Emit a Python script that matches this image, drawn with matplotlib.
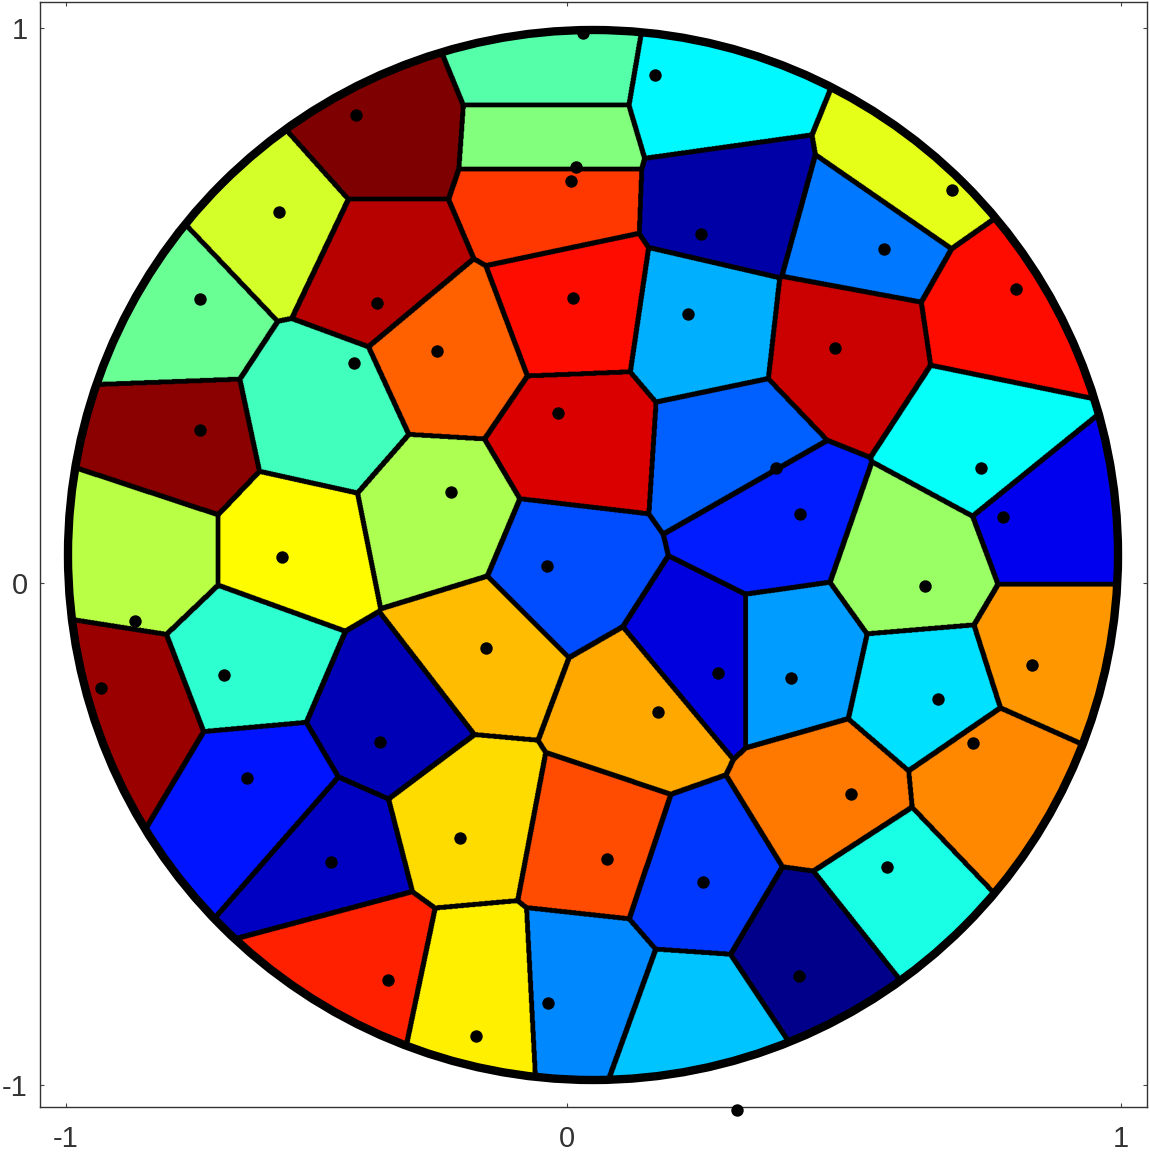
import numpy as np
import matplotlib
matplotlib.use('Agg')
import matplotlib.pyplot as plt
from matplotlib.patches import Circle
from matplotlib.colors import LinearSegmentedColormap

# centros de las celdas (generadores del Voronoi) y valor de color (jet)
cell_x = np.array([-0.091, 0.242, -0.091, -0.091, -0.415, -0.596, -0.796, -0.415, -0.044, -0.272,
                   -0.520, -0.787, -0.853, -0.577, -0.291, -0.063, 0.261, 0.337, 0.270, 0.213,
                   0.509, 0.594, 0.470, 0.794, 0.747, 0.870, 0.613, 0.204, 0.375, 0.632,
                   0.870, 0.756, 0.451, 0.556, 0.413, 0.204, 0.004, 0.090, -0.215, -0.387,
                   -0.653, -0.901, -0.630, -0.500, -0.244, -0.444, -0.215, -0.025, 0.185, -0.034])
cell_y = np.array([0.933, 0.876, 0.777, 0.690, 0.800, 0.638, 0.448, 0.552, 0.467, 0.381,
                   0.267, 0.210, 0.010, 0.010, 0.067, -0.029, 0.200, 0.067, 0.676, 0.429,
                   0.610, 0.733, 0.400, 0.448, 0.219, 0.067, -0.029, -0.200, -0.200, -0.257,
                   -0.181, -0.438, -0.467, -0.629, -0.743, -0.619, -0.552, -0.295, -0.181, -0.314,
                   -0.200, -0.295, -0.457, -0.571, -0.505, -0.781, -0.829, -0.819, -0.895, 0.219])
cell_val = np.array([0.46, 0.37, 0.50, 0.82, 1.00, 0.585, 0.48, 0.945, 0.86, 0.78,
                     0.44, 0.985, 0.555, 0.625, 0.545, 0.2025, 0.2225, 0.155, 0.04, 0.30,
                     0.2425, 0.60, 0.925, 0.86, 0.38, 0.11, 0.525, 0.095, 0.28, 0.345,
                     0.725, 0.74, 0.755, 0.40, 0.015, 0.18, 0.80, 0.71, 0.69, 0.055,
                     0.42, 0.97, 0.145, 0.07, 0.66, 0.84, 0.64, 0.26, 0.32, 0.91])

# puntos negros
dot_x = [-0.019, 0.118, -0.451, -0.032, -0.042, 0.684, -0.598, 0.206, 0.554, 0.806,
         -0.749, -0.038, -0.411, 0.181, 0.461, -0.297, -0.455, -0.067, -0.749, 0.349,
         0.739, -0.270, 0.394, 0.781, -0.592, -0.088, 0.632, -0.872, -0.204, 0.836,
         0.238, 0.377, -0.703, -0.937, 0.124, 0.657, -0.406, 0.724, -0.659, 0.491,
         -0.253, 0.027, -0.499, 0.560, 0.210, 0.392, -0.086, -0.390, -0.223, 0.274]
dot_y = [0.994, 0.914, 0.838, 0.739, 0.712, 0.695, 0.653, 0.611, 0.583, 0.507,
         0.488, 0.490, 0.480, 0.459, 0.394, 0.389, 0.366, 0.270, 0.238, 0.166,
         0.166, 0.120, 0.078, 0.072, -0.004, -0.021, -0.059, -0.126, -0.177, -0.210,
         -0.225, -0.234, -0.229, -0.253, -0.299, -0.274, -0.356, -0.358, -0.425, -0.455,
         -0.539, -0.579, -0.585, -0.594, -0.623, -0.802, -0.853, -0.810, -0.916, -1.057]

xtick_pos = [-1.004, -0.05, 1.006]
ytick_pos = [-1.01, -0.053, 1.004]
tick_lab = ['-1', '0', '1']

# jet simetrico (estilo matlab)
jet = LinearSegmentedColormap.from_list('jet_m', [
    (0.0, (0, 0, 0.5)), (0.125, (0, 0, 1)), (0.375, (0, 1, 1)),
    (0.625, (1, 1, 0)), (0.875, (1, 0, 0)), (1.0, (0.5, 0, 0))])

#%% voronoi en grilla

n = 2000
g = np.linspace(-1.0, 1.0, n)
X, Y = np.meshgrid(g, g)
d1 = np.full(X.shape, np.inf, dtype=np.float32)
lab = np.zeros(X.shape, dtype=np.int16)
for i in range(len(cell_x)):
    d = np.hypot(X - cell_x[i], Y - cell_y[i]).astype(np.float32)
    closer = d < d1
    lab[closer] = i
    d1[closer] = d[closer]

# bordes: cambio de etiqueta entre vecinos, engrosado con un disco
edge = np.zeros(lab.shape, dtype=bool)
edge[:, 1:] |= lab[:, 1:] != lab[:, :-1]
edge[1:, :] |= lab[1:, :] != lab[:-1, :]
r = 4.6
thick = np.zeros_like(edge)
for dy in range(-5, 6):
    for dx in range(-5, 6):
        if dx*dx + dy*dy <= r*r:
            thick |= np.roll(np.roll(edge, dy, axis=0), dx, axis=1)

rgba = jet(cell_val)[lab]
rgba[thick] = (0, 0, 0, 1)
rgba[X**2 + Y**2 > 1.0, 3] = 0

#%%

fig = plt.figure(figsize=(11.5, 11.55), dpi=100)
ax = fig.add_axes([40/1150, 48/1155, 1107/1150, 1105/1155])
ax.imshow(rgba, extent=(-1, 1, -1, 1), origin='lower', interpolation='antialiased', zorder=1)
ax.add_patch(Circle((0, 0), 1.0, fill=False, ec='black', lw=6, zorder=3))
ax.scatter(dot_x, dot_y, s=80, color='black', zorder=5, clip_on=False, linewidths=0)

ax.set_xlim(-1.0533, 1.0552)
ax.set_ylim(-1.0514, 1.0533)
ax.set_xticks(xtick_pos)
ax.set_xticklabels(tick_lab)
ax.set_yticks(ytick_pos)
ax.set_yticklabels(tick_lab)
ax.tick_params(direction='in', length=3, width=0.8, color='#444444', top=True, right=True,
               labelsize=21, labelcolor='#333333')
ax.tick_params(axis='x', pad=13)
ax.tick_params(axis='y', pad=9)
for lbl in ax.get_xticklabels() + ax.get_yticklabels():
    lbl.set_family(['Liberation Sans Narrow', 'Liberation Sans', 'DejaVu Sans'])
for s in ax.spines.values():
    s.set_color('#333333')
    s.set_linewidth(1.0)

fig.savefig('out.png', dpi=100)
